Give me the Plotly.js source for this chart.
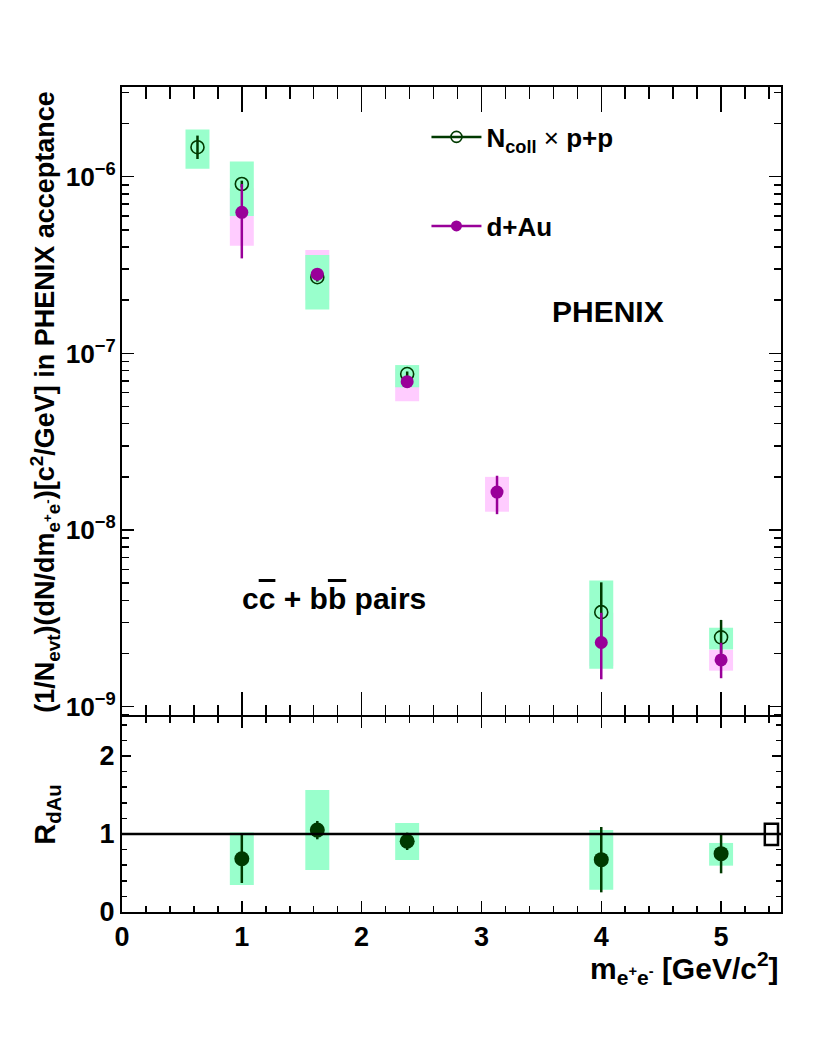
<!DOCTYPE html>
<html>
<head>
<meta charset="utf-8">
<script src="https://cdn.plot.ly/plotly-3.0.1.min.js"></script>
<style>body{margin:0;background:#fff;} #plot{width:822px;height:1064px;}</style>
</head>
<body>
<div id="plot"></div>
<script>
// ---- N_coll x p+p ----
const massPP = [0.63, 1.0, 1.63, 2.38, 4.0, 5.0];
const yieldPP = [1.47e-6, 9.1e-7, 2.70e-7, 7.64e-8, 3.43e-9, 2.47e-9];
const statHiPP = [1.71e-6, 9.5e-7, 2.85e-7, 7.9e-8, 5.06e-9, 3.10e-9];
const statLoPP = [1.26e-6, 8.7e-7, 2.55e-7, 7.4e-8, 2.2e-9, 2.0e-9];
const sysHiPP = [1.85e-6, 1.22e-6, 3.61e-7, 8.59e-8, 5.18e-9, 2.80e-9];
const sysLoPP = [1.11e-6, 6.0e-7, 1.77e-7, 6.43e-8, 1.64e-9, 2.11e-9];

// ---- d+Au ----
const massDAu = [1.0, 1.63, 2.38, 3.13, 4.0, 5.0];
const yieldDAu = [6.29e-7, 2.81e-7, 6.92e-8, 1.64e-8, 2.31e-9, 1.84e-9];
const statHiDAu = [9.1e-7, 3.0e-7, 7.3e-8, 2.03e-8, 3.4e-9, 2.3e-9];
const statLoDAu = [3.45e-7, 2.63e-7, 6.6e-8, 1.23e-8, 1.43e-9, 1.45e-9];
const sysHiDAu = [8.6e-7, 3.85e-7, 8.2e-8, 2.0e-8, 3.4e-9, 2.1e-9];
const sysLoDAu = [4.07e-7, 2.0e-7, 5.36e-8, 1.27e-8, 1.7e-9, 1.60e-9];

// ---- R_dAu ----
const massR = [1.0, 1.63, 2.38, 4.0, 5.0];
const rdau = [0.683, 1.05, 0.906, 0.671, 0.748];
const statHiR = [1.0, 1.167, 1.017, 1.09, 1.0];
const statLoR = [0.372, 0.932, 0.795, 0.252, 0.496];
const sysHiR = [1.02, 1.564, 1.141, 1.051, 0.885];
const sysLoR = [0.346, 0.538, 0.667, 0.286, 0.594];

// global normalization uncertainty box
const normX = [5.42];
const normLo = [0.86];
const normHi = [1.13];

const boxHalf = 0.1;
const normHalf = 0.055;

const cGreenDark = '#003a00';
const cPurple = '#990099';
const cGreenBox = '#99ffcc';
const cPinkBox = '#ffccff';
const FONT = 'Liberation Sans, Arial, sans-serif';

function diff(a, b) { return a.map((v, i) => v - b[i]); }

const shapes = [];
function boxes(xs, lo, hi, color, xref, yref) {
  xs.forEach((x, i) => {
    shapes.push({type: 'rect', xref: xref, yref: yref, layer: 'below',
      x0: x - boxHalf, x1: x + boxHalf, y0: lo[i], y1: hi[i],
      fillcolor: color, line: {width: 0}});
  });
}
boxes(massDAu, sysLoDAu, sysHiDAu, cPinkBox, 'x', 'y');
boxes(massPP, sysLoPP, sysHiPP, cGreenBox, 'x', 'y');
boxes(massR, sysLoR, sysHiR, cGreenBox, 'x2', 'y2');
shapes.push({type: 'line', xref: 'x2 domain', yref: 'y2', x0: 0, x1: 1, y0: 1, y1: 1,
  line: {color: 'black', width: 2.5}});
normX.forEach((x, i) => {
  shapes.push({type: 'rect', xref: 'x2', yref: 'y2', x0: x - normHalf, x1: x + normHalf,
    y0: normLo[i], y1: normHi[i], line: {color: 'black', width: 2.5}, fillcolor: 'rgba(0,0,0,0)'});
});

const traces = [
  {x: massPP, y: yieldPP, xaxis: 'x', yaxis: 'y', type: 'scatter', mode: 'markers', showlegend: false,
    marker: {symbol: 'circle-open', size: 13, color: cGreenDark, line: {width: 1.6, color: cGreenDark}},
    error_y: {type: 'data', symmetric: false, array: diff(statHiPP, yieldPP), arrayminus: diff(yieldPP, statLoPP),
      color: cGreenDark, thickness: 2.5, width: 0}},
  {x: massDAu, y: yieldDAu, xaxis: 'x', yaxis: 'y', type: 'scatter', mode: 'markers', showlegend: false,
    marker: {symbol: 'circle', size: 13, color: cPurple},
    error_y: {type: 'data', symmetric: false, array: diff(statHiDAu, yieldDAu), arrayminus: diff(yieldDAu, statLoDAu),
      color: cPurple, thickness: 2.5, width: 0}},
  {x: massR, y: rdau, xaxis: 'x2', yaxis: 'y2', type: 'scatter', mode: 'markers', showlegend: false,
    marker: {symbol: 'circle', size: 15, color: cGreenDark},
    error_y: {type: 'data', symmetric: false, array: diff(statHiR, rdau), arrayminus: diff(rdau, statLoR),
      color: cGreenDark, thickness: 2.5, width: 0}},
  // legend entries
  {x: [null], y: [null], xaxis: 'x', yaxis: 'y', type: 'scatter', mode: 'lines+markers', name: 'N<sub>coll</sub> <span style="font-weight:normal">×</span> p+p',
    legend: 'legend', line: {color: cGreenDark, width: 2.5},
    marker: {symbol: 'circle-open', size: 11, color: cGreenDark, line: {width: 1.6}}},
  {x: [null], y: [null], xaxis: 'x', yaxis: 'y', type: 'scatter', mode: 'lines+markers', name: 'd+Au',
    legend: 'legend2', line: {color: cPurple, width: 2.5},
    marker: {symbol: 'circle', size: 11, color: cPurple}},
  // invisible helper trace for the top frame axis
  {x: [null], y: [null], xaxis: 'x3', yaxis: 'y', type: 'scatter', mode: 'markers', showlegend: false, hoverinfo: 'skip'}
];

const axisCommon = {showline: true, linecolor: 'black', linewidth: 2, mirror: 'ticks',
  showgrid: false, zeroline: false, ticks: 'inside', tickcolor: 'black', tickwidth: 1.5};
const xMinorTop = {dtick: 0.2, tick0: 0, ticks: 'inside', ticklen: 12, tickwidth: 1.5, tickcolor: 'black', showgrid: false};

const split = 0.2364;
const layout = {
  width: 822, height: 1064,
  margin: {l: 122, r: 41, t: 87, b: 152},
  paper_bgcolor: 'white', plot_bgcolor: 'white',
  font: {family: FONT, color: 'black', weight: 'bold'},
  // bottom edge of the upper panel: ticks only (line comes from lower panel)
  xaxis: {domain: [0, 1], anchor: 'y', range: [0, 5.5], matches: 'x2', side: 'bottom',
    showline: false, mirror: false, showgrid: false, zeroline: false,
    showticklabels: false, ticks: 'inside', tickcolor: 'black', tickwidth: 1.5, dtick: 1, tick0: 0, ticklen: 25,
    minor: xMinorTop},
  // top edge of the upper panel
  xaxis3: {overlaying: 'x', anchor: 'y', side: 'top', range: [0, 5.5], matches: 'x2',
    showline: true, linecolor: 'black', linewidth: 2, mirror: false, showgrid: false, zeroline: false,
    showticklabels: false, ticks: 'inside', tickcolor: 'black', tickwidth: 1.5, dtick: 1, tick0: 0, ticklen: 25,
    minor: xMinorTop},
  yaxis: Object.assign({}, axisCommon, {domain: [split, 1], anchor: 'x', type: 'log', range: [-9.058, -5.492],
    dtick: 1, exponentformat: 'power', ticklen: 12,
    tickfont: {size: 21, family: FONT, weight: 'bold'},
    minor: {ticks: 'inside', ticklen: 7, tickwidth: 1.5, tickcolor: 'black', showgrid: false},
    title: {text: '(1/N<sub>evt</sub>)(dN/dm<sub>e<sup>+</sup>e<sup>-</sup></sub>)[c<sup>2</sup>/GeV] in PHENIX acceptance',
      font: {size: 27, family: FONT, weight: 'bold'}, standoff: 3}}),
  xaxis2: Object.assign({}, axisCommon, {domain: [0, 1], anchor: 'y2', range: [0, 5.5],
    dtick: 1, tick0: 0, ticklen: 11,
    tickfont: {size: 27, family: FONT, weight: 'bold'},
    minor: {dtick: 0.2, tick0: 0, ticks: 'inside', ticklen: 6, tickwidth: 1.5, tickcolor: 'black', showgrid: false}}),
  yaxis2: Object.assign({}, axisCommon, {domain: [0, split], anchor: 'x2', range: [0, 2.5],
    dtick: 1, tick0: 0, ticklen: 9,
    tickfont: {size: 27, family: FONT, weight: 'bold'},
    minor: {dtick: 0.2, tick0: 0, ticks: 'inside', ticklen: 5, tickwidth: 1.5, tickcolor: 'black', showgrid: false},
    title: {text: 'R<sub>dAu</sub>', font: {size: 29, family: FONT, weight: 'bold'}, standoff: 35}}),
  legend: {x: 0.462, y: 0.9394, xanchor: 'left', yanchor: 'middle', bgcolor: 'rgba(0,0,0,0)',
    itemwidth: 50, font: {size: 26, family: FONT, weight: 'bold'}},
  legend2: {x: 0.462, y: 0.8315, xanchor: 'left', yanchor: 'middle', bgcolor: 'rgba(0,0,0,0)',
    itemwidth: 50, font: {size: 26, family: FONT, weight: 'bold'}},
  shapes: shapes,
  annotations: [
    {xref: 'paper', yref: 'paper', x: 0.7375, y: 0.7273, xanchor: 'center', yanchor: 'middle', showarrow: false,
      text: 'PHENIX', font: {size: 30, family: FONT, weight: 'bold'}},
    {xref: 'paper', yref: 'paper', x: 0.3217, y: 0.3794, xanchor: 'center', yanchor: 'middle', showarrow: false,
      text: 'c<span style="text-decoration:overline">c</span> + b<span style="text-decoration:overline">b</span> pairs',
      font: {size: 30, family: FONT, weight: 'bold'}},
    {xref: 'paper', yref: 'paper', x: 1.0, y: -0.068, xanchor: 'right', yanchor: 'middle', showarrow: false,
      text: 'm<sub>e<sup>+</sup>e<sup>-</sup></sub> [GeV/c<sup>2</sup>]', font: {size: 30, family: FONT, weight: 'bold'}}
  ]
};

Plotly.newPlot('plot', traces, layout, {displayModeBar: false, staticPlot: true});
</script>
</body>
</html>
